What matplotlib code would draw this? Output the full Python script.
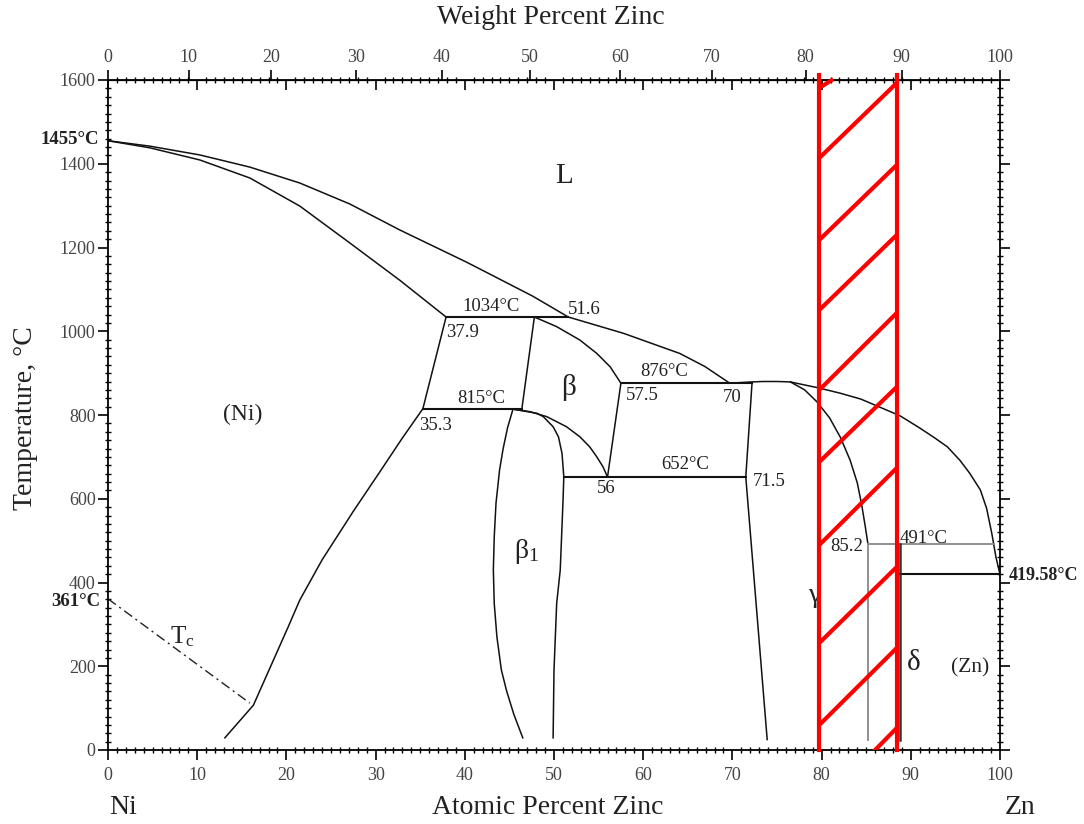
import numpy as np
import matplotlib
matplotlib.use("Agg")
import matplotlib.pyplot as plt
from matplotlib.ticker import MultipleLocator

plt.rcParams['font.family'] = ['Liberation Serif', 'DejaVu Serif']
plt.rcParams['mathtext.fontset'] = 'stix'

# molar masses for the weight-percent scale on top
M_NI = 58.69
M_ZN = 65.38

# phase boundaries: (atomic % Zn, temperature degC)
liq_x = [0, 4.7, 10.3, 15.9, 21.5, 27.1, 32.7, 40.2, 47.6, 51.6, 57.8, 64.1, 66.9, 69.7,
         72.2, 73.4, 75.0, 76.5, 77.6, 79.6, 82.1, 84.4, 86.5, 88.8, 91.0, 92.7, 94.1,
         95.5, 96.6, 97.8, 98.5, 99.1, 99.55, 100]
liq_y = [1455, 1442, 1421, 1392, 1354, 1304, 1242, 1165, 1084, 1034, 995, 947, 916, 876,
         879, 880, 880, 879, 874, 865, 852, 838, 819, 798, 769, 745, 724,
         692, 661, 621, 577, 515, 460, 419.58]

sol_x = [0, 4.7, 10.3, 15.9, 21.5, 27.1, 32.7, 37.9]
sol_y = [1455, 1438, 1409, 1366, 1299, 1211, 1122, 1034]

ni_solvus_x = [37.9, 35.3, 33.0, 30.5, 27.5, 24.0, 21.5, 20.2, 16.3, 13.1]
ni_solvus_y = [1034, 815, 745, 665, 570, 454, 358, 294, 107, 29]

tc_x = [0, 15.9]
tc_y = [361, 112]

beta_left_x = [47.8, 46.4]
beta_left_y = [1034, 815]

beta_right_x = [47.8, 50.3, 52.9, 54.8, 56.3, 57.5, 56.0]
beta_right_y = [1034, 1011, 979, 947, 915, 876, 652]

beta_arc_x = [45.4, 47.3, 49.2, 51.4, 52.9, 54.0, 54.8, 55.5, 56.0]
beta_arc_y = [814, 808, 796, 772, 748, 724, 700, 676, 652]

beta1_right_x = [45.4, 48.1, 48.8, 49.9, 50.5, 50.9, 51.1, 51.0, 50.7, 50.3, 50.0, 49.9]
beta1_right_y = [814, 804, 796, 772, 748, 708, 652, 589, 430, 350, 191, 29]

beta1_left_x = [45.4, 44.8, 44.3, 43.9, 43.5, 43.3, 43.2, 43.3, 43.6, 44.1, 44.7, 45.5, 46.5]
beta1_left_y = [814, 770, 720, 669, 590, 509, 430, 350, 270, 191, 140, 85, 29]

gamma_left_x = [72.2, 71.5, 73.9]
gamma_left_y = [876, 652, 25]

gamma_right_x = [76.5, 78.1, 79.5, 80.9, 82.1, 83.2, 84.0, 84.5, 84.9, 85.2]
gamma_right_y = [879, 860, 831, 793, 747, 692, 638, 585, 533, 491]

# isotherms: (x start, x end, temperature)
isotherms = [(37.9, 51.6, 1034), (35.3, 46.4, 815), (57.5, 72.2, 876),
             (51.1, 71.5, 652), (88.8, 100, 419.58)]

# gamma / delta lower part
gamma_edge_x = 85.2
delta_x = 88.8
iso_491 = (85.2, 99.3, 491)
bottom_t = 25

# red hatched band
band_x = [79.74, 88.42]
band_top = 1612
hatch_y0 = [1581, 1413.7, 1218, 1050.7, 859.7, 687.8, 489.6, 255.5, 59.7]
hatch_y1 = [1602, 1592.8, 1397, 1229.9, 1043.6, 866.9, 673.4, 437, 243.6]
hatch_x1 = [81.3, 88.42, 88.42, 88.42, 88.42, 88.42, 88.42, 88.42, 88.42]
hatch_tail = ([86.0, 88.42], [0, 52.5])

# text labels inside the diagram
labels = [
    ("L", 51.1, 1371, 21), ("1034°C", 43.0, 1058, 13.5), ("51.6", 53.4, 1051, 13.5),
    ("37.9", 39.7, 996, 13.5), ("815°C", 41.8, 840, 13.5), ("35.3", 36.7, 776, 13.5),
    ("β", 51.6, 866, 21), ("57.5", 59.9, 846, 13.5), ("876°C", 62.4, 905, 13.5),
    ("70", 70.0, 842, 13.5), ("652°C", 64.7, 681, 13.5), ("56", 55.9, 624, 13.5),
    ("71.5", 74.1, 640, 13.5), ("(Ni)", 15.1, 802, 17), ("γ", 79.3, 368, 20),
    ("85.2", 82.8, 485, 13.5), ("491°C", 91.4, 504, 13.5), ("δ", 90.3, 207, 21),
    ("(Zn)", 96.6, 196, 15.5),
]

W, H = 1084, 824
fig = plt.figure(figsize=(W / 100, H / 100), dpi=100)
ax = fig.add_axes([108 / W, 74 / H, 892 / W, 670 / H])
ax.set_xlim(0, 100)
ax.set_ylim(0, 1600)

k = dict(color='#111111', lw=1.1)
ax.plot(liq_x, liq_y, **k)
ax.plot(sol_x, sol_y, **k)
ax.plot(ni_solvus_x, ni_solvus_y, **k)
ax.plot(tc_x, tc_y, color='#222222', lw=1.0, ls='-.', dashes=(7, 3, 1.5, 3))
ax.plot(beta_left_x, beta_left_y, **k)
ax.plot(beta_right_x, beta_right_y, **k)
ax.plot(beta_arc_x, beta_arc_y, **k)
ax.plot(beta1_right_x, beta1_right_y, **k)
ax.plot(beta1_left_x, beta1_left_y, **k)
ax.plot(gamma_left_x, gamma_left_y, **k)
ax.plot(gamma_right_x, gamma_right_y, **k)
for x0, x1, t in isotherms:
    ax.plot([x0, x1], [t, t], color='#111111', lw=1.5)
ax.plot([iso_491[0], iso_491[1]], [iso_491[2], iso_491[2]], color='#888888', lw=1.3)
ax.plot([gamma_edge_x, gamma_edge_x], [491, bottom_t], color='#888888', lw=1.3)
ax.plot([delta_x, delta_x], [491, bottom_t], color='#333333', lw=1.8)

for txt, x, y, fs in labels:
    ax.text(x, y, txt, fontsize=fs, ha='center', va='center', color='#222222')
ax.text(46.9, 473, r'β$_\mathregular{1}$', fontsize=20, ha='center', va='center', color='#222222')
ax.text(8.4, 270, r'T$_\mathregular{c}$', fontsize=18, ha='center', va='center', color='#222222')

# red band
for bx in band_x:
    ax.plot([bx, bx], [0, band_top], color='#ff0000', lw=3, clip_on=False, zorder=5)
for y0, y1, x1 in zip(hatch_y0, hatch_y1, hatch_x1):
    ax.plot([band_x[0], x1], [y0, y1], color='#ff0000', lw=3, clip_on=False, zorder=5,
            solid_capstyle='butt')
ax.plot(hatch_tail[0], hatch_tail[1], color='#ff0000', lw=3, zorder=5)

# ticks
tick_col = '#444444'
ax.xaxis.set_major_locator(MultipleLocator(10))
ax.xaxis.set_minor_locator(MultipleLocator(1))
ax.yaxis.set_major_locator(MultipleLocator(200))
ax.yaxis.set_minor_locator(MultipleLocator(20))
ax.tick_params(which='major', direction='out', length=7, width=1.2, labelsize=13,
               labelcolor=tick_col, right=True, top=False)
ax.tick_params(which='minor', direction='inout', length=4, width=1.0, right=True, top=False)
ax.tick_params(axis='x', which='major', pad=5)
ax.tick_params(axis='y', which='major', pad=2)
for s in ax.spines.values():
    s.set_linewidth(1.3)


def at2wt(a):
    a = np.asarray(a, dtype=float)
    return 100 * a * M_ZN / (a * M_ZN + (100 - a) * M_NI)


def wt2at(w):
    w = np.asarray(w, dtype=float)
    return 100 * (w / M_ZN) / (w / M_ZN + (100 - w) / M_NI)


top_at = ax.secondary_xaxis('top')
top_at.xaxis.set_major_locator(MultipleLocator(10))
top_at.xaxis.set_minor_locator(MultipleLocator(1))
top_at.tick_params(which='major', direction='in', length=7, width=1.2, labeltop=False)
top_at.tick_params(which='minor', direction='inout', length=4, width=1.0)

top_wt = ax.secondary_xaxis('top', functions=(at2wt, wt2at))
top_wt.set_xticks(np.arange(0, 101, 10))
top_wt.xaxis.set_minor_locator(plt.NullLocator())
top_wt.tick_params(which='major', direction='out', length=7, width=1.2, labelsize=13,
                   labelcolor=tick_col, pad=3)


# labels outside the axes
def ftext(px, py, s, **kw):
    fig.text(px / W, 1 - py / H, s, **kw)


ftext(551, 18, "Weight Percent Zinc", fontsize=20, ha='center', va='center', color='#222222')
ftext(548, 807, "Atomic Percent Zinc", fontsize=20, ha='center', va='center', color='#222222')
ftext(123, 807, "Ni", fontsize=20, ha='center', va='center', color='#222222')
ftext(1020, 807, "Zn", fontsize=20, ha='center', va='center', color='#222222')
ftext(26, 418, "Temperature, °C", fontsize=20, ha='center', va='center', rotation=90,
      color='#222222')
ftext(99, 140, "1455°C", fontsize=13.5, fontweight='bold', ha='right', va='center',
      color='#222222')
ftext(100, 601, "361°C", fontsize=13.5, fontweight='bold', ha='right', va='center',
      color='#222222')
ftext(1009, 576, "419.58°C", fontsize=13, fontweight='bold', ha='left', va='center',
      color='#222222')

fig.savefig("out.png", dpi=100, facecolor='white')
